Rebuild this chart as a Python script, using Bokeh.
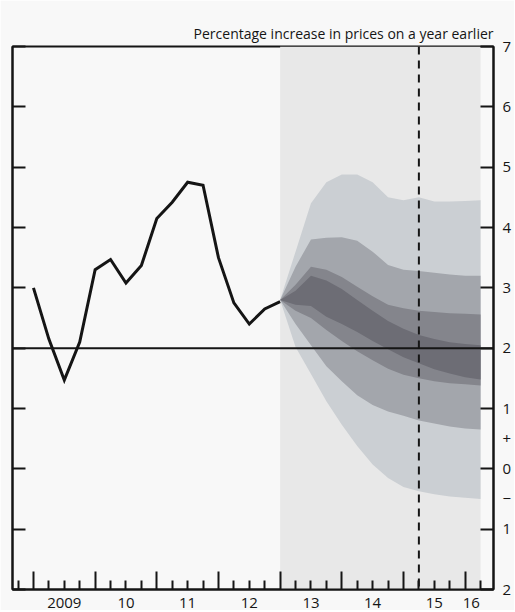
from bokeh.plotting import figure
from bokeh.models import LinearAxis, FixedTicker, Span, BoxAnnotation, Range1d
from bokeh.embed import file_html
from bokeh.resources import INLINE

# ---- data -------------------------------------------------------------
# CPI inflation, quarterly, 2009 Q1 - 2013 Q1 (per cent, year on year)
hist_quarters = ["2009 Q1", "2009 Q2", "2009 Q3", "2009 Q4",
                 "2010 Q1", "2010 Q2", "2010 Q3", "2010 Q4",
                 "2011 Q1", "2011 Q2", "2011 Q3", "2011 Q4",
                 "2012 Q1", "2012 Q2", "2012 Q3", "2012 Q4",
                 "2013 Q1"]
cpi = [3.0, 2.15, 1.47, 2.1, 3.3, 3.47, 3.08, 3.37, 4.15, 4.42, 4.75, 4.7,
       3.5, 2.75, 2.4, 2.65, 2.77]

# fan chart projection, 2013 Q1 - 2016 Q2
fan_quarters = ["2013 Q1", "2013 Q2", "2013 Q3", "2013 Q4",
                "2014 Q1", "2014 Q2", "2014 Q3", "2014 Q4",
                "2015 Q1", "2015 Q2", "2015 Q3", "2015 Q4",
                "2016 Q1", "2016 Q2"]
outer_hi = [2.8, 3.6, 4.4, 4.75, 4.88, 4.88, 4.75, 4.5, 4.45, 4.5, 4.43, 4.43, 4.44, 4.45]
mid_hi   = [2.8, 3.35, 3.8, 3.83, 3.84, 3.78, 3.6, 3.38, 3.3, 3.28, 3.25, 3.22, 3.2, 3.2]
inner_hi = [2.8, 3.05, 3.35, 3.3, 3.18, 3.02, 2.86, 2.72, 2.66, 2.62, 2.6, 2.58, 2.57, 2.56]
centre_hi = [2.8, 2.95, 3.2, 3.12, 2.98, 2.8, 2.62, 2.45, 2.32, 2.22, 2.15, 2.1, 2.07, 2.05]
centre_lo = [2.8, 2.72, 2.7, 2.52, 2.4, 2.27, 2.12, 1.98, 1.85, 1.75, 1.65, 1.58, 1.52, 1.48]
inner_lo = [2.8, 2.62, 2.5, 2.3, 2.12, 1.95, 1.8, 1.66, 1.56, 1.5, 1.45, 1.42, 1.4, 1.38]
mid_lo   = [2.8, 2.4, 2.05, 1.7, 1.45, 1.22, 1.06, 0.95, 0.88, 0.8, 0.75, 0.7, 0.67, 0.65]
outer_lo = [2.8, 2.02, 1.57, 1.12, 0.73, 0.38, 0.07, -0.15, -0.3, -0.37, -0.42, -0.46, -0.48, -0.5]

target = 2.0
two_years_ahead = "2015 Q2"

year_ticks = [2009, 2010, 2011, 2012, 2013, 2014, 2015, 2016]
year_labels = ["2009", "10", "11", "12", "13", "14", "15", "16"]
y_ticks = [7, 6, 5, 4, 3, 2, 1, 0, -1, -2]
y_label_pos = [7, 6, 5, 4, 3, 2, 1, 0.5, 0, -0.5, -1, -2]
y_labels = ["7", "6", "5", "4", "3", "2", "1", "+", "0", "\u2212", "1", "2"]


def qpos(s):
    y, q = s.split(" Q")
    return int(y) + (int(q) - 1) / 4


hist_x = [qpos(s) for s in hist_quarters]
fan_x = [qpos(s) for s in fan_quarters]

FONT = "Open Sans"
INK = "#151515"

p = figure(width=514, height=610,
           x_range=Range1d(2008.66, 2016.46), y_range=Range1d(-2, 7),
           output_backend="svg", toolbar_location=None,
           x_axis_location=None, y_axis_location=None,
           min_border_left=12, min_border_right=0,
           min_border_top=46, min_border_bottom=20)
p.grid.visible = False
p.background_fill_color = "#f8f8f8"
p.border_fill_color = "#f8f8f8"
p.outline_line_color = INK
p.outline_line_width = 2

p.title.text = "Percentage increase in prices on a year earlier"
p.title.align = "right"
p.title.text_font = FONT
p.title.text_font_size = "14px"
p.title.text_font_style = "normal"
p.title.text_color = INK
p.title.standoff = 8

# projection period background
p.add_layout(BoxAnnotation(left=fan_x[0], right=fan_x[-1], fill_color="#e8e8e8",
                           fill_alpha=1, line_alpha=0, level="underlay"))

# fan
p.varea(x=fan_x, y1=outer_lo, y2=outer_hi, fill_color="#cbcfd3")
p.varea(x=fan_x, y1=mid_lo, y2=mid_hi, fill_color="#a3a6ac")
p.varea(x=fan_x, y1=inner_lo, y2=inner_hi, fill_color="#84858c")
p.varea(x=fan_x, y1=centre_lo, y2=centre_hi, fill_color="#6d6d75")

# target line and two-years-ahead marker
p.add_layout(Span(location=target, dimension="width", line_color=INK, line_width=2))
p.add_layout(Span(location=qpos(two_years_ahead), dimension="height",
                  line_color=INK, line_width=2, line_dash="8 6"))

# CPI line
p.line(hist_x, cpi, line_color=INK, line_width=3, line_join="miter")

# axes
quarter_minor = [y + q / 4 for y in range(2008, 2017) for q in (1, 2, 3)
                 if p.x_range.start < y + q / 4 < p.x_range.end]

xa = LinearAxis(ticker=FixedTicker(ticks=year_ticks, minor_ticks=quarter_minor),
                major_label_overrides={t: "" for t in year_ticks},
                major_tick_in=18, major_tick_out=0, minor_tick_in=9, minor_tick_out=0,
                major_label_standoff=0,
                axis_line_width=2, axis_line_color=INK,
                major_tick_line_width=2, major_tick_line_color=INK,
                minor_tick_line_width=2, minor_tick_line_color=INK)
p.add_layout(xa, "below")

label_pos = [t + 0.5 for t in year_ticks[:-1]] + [year_ticks[-1] + 0.1]
xl = LinearAxis(ticker=FixedTicker(ticks=label_pos, minor_ticks=[]),
                major_label_overrides={pos: lab for pos, lab in zip(label_pos, year_labels)},
                major_tick_line_color=None, axis_line_color=None,
                major_label_standoff=2,
                major_label_text_font=FONT, major_label_text_font_size="15px",
                major_label_text_color=INK)
p.add_layout(xl, "below")

ya = LinearAxis(ticker=FixedTicker(ticks=y_ticks, minor_ticks=[]),
                major_label_overrides={t: "" for t in y_ticks},
                major_tick_in=13, major_tick_out=0, major_label_standoff=0,
                axis_line_width=2, axis_line_color=INK,
                major_tick_line_width=2, major_tick_line_color=INK)
p.add_layout(ya, "left")

yr = LinearAxis(ticker=FixedTicker(ticks=y_ticks, minor_ticks=[]),
                major_label_overrides={t: "" for t in y_ticks},
                major_tick_in=13, major_tick_out=0, major_label_standoff=0,
                axis_line_width=2, axis_line_color=INK,
                major_tick_line_width=2, major_tick_line_color=INK)
p.add_layout(yr, "right")

yl = LinearAxis(ticker=FixedTicker(ticks=y_label_pos, minor_ticks=[]),
                major_label_overrides={t: lab for t, lab in zip(y_label_pos, y_labels)},
                major_tick_line_color=None, axis_line_color=None,
                major_label_standoff=3,
                major_label_text_font=FONT, major_label_text_font_size="15px",
                major_label_text_color=INK)
p.add_layout(yl, "right")

open("out.html", "w").write(file_html(p, INLINE))
